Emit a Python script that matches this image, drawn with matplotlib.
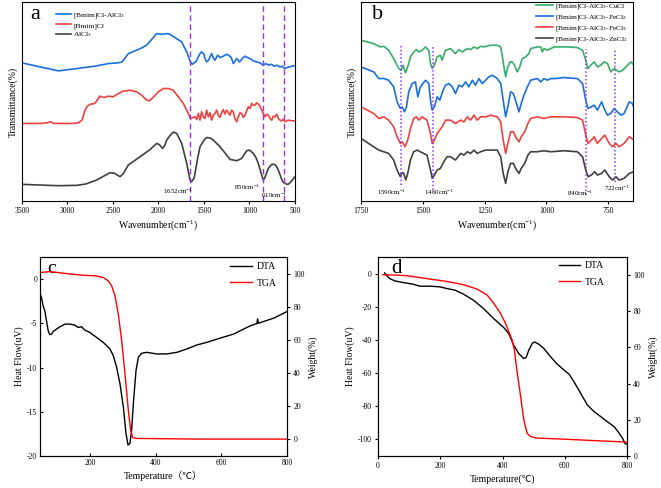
import matplotlib
matplotlib.use("Agg")
import matplotlib.pyplot as plt
import numpy as np

plt.rcParams['font.family'] = ['Liberation Serif', 'Noto Sans CJK SC']
plt.rcParams['mathtext.fontset'] = 'custom'
plt.rcParams['mathtext.rm'] = 'Liberation Serif'
plt.rcParams['mathtext.it'] = 'Liberation Serif:italic'
plt.rcParams['axes.unicode_minus'] = False

C_BLACK = '#404040'
C_RED = '#F14040'
C_BLUE = '#1A6FDF'
C_GREEN = '#37AD6B'
C_VIOLET = '#9A30F0'

# ---------------- Panel a data (wavenumber, transmittance offset, a.u.) ----------------
a_blue_wn = [3500, 3300, 3100, 2900, 2700, 2550, 2450, 2400, 2330, 2200, 2130, 2020, 1960, 1910, 1874, 1840, 1745, 1690, 1650, 1628,
             1610, 1590, 1544, 1526, 1500, 1489, 1471, 1450, 1416, 1400, 1380, 1350, 1320, 1290, 1251, 1230, 1200, 1178, 1160, 1140,
             1110, 1080, 1050, 1020, 995, 958, 920, 885, 848, 820, 790, 760, 730, 700, 665, 640, 617, 590, 560, 530, 500]
a_blue_t = [412, 400, 388, 395, 402, 410, 412, 415, 440, 455, 465, 500, 498, 500, 498, 492, 475, 445, 415, 408,
            412, 415, 440, 445, 438, 425, 415, 420, 440, 428, 420, 435, 428, 432, 438, 435, 428, 410, 418, 425,
            415, 425, 432, 428, 425, 418, 415, 412, 405, 410, 405, 408, 402, 405, 400, 402, 395, 398, 400, 402, 404]

a_red_wn = [3500, 3300, 3220, 3190, 3150, 2950, 2880, 2840, 2808, 2782, 2750, 2700, 2643, 2600, 2551, 2500, 2441, 2386, 2313, 2240,
            2185, 2130, 2100, 2060, 2002, 1947, 1892, 1840, 1782, 1727, 1672, 1650, 1620, 1599, 1580, 1562, 1544, 1526, 1508, 1489,
            1471, 1452, 1434, 1416, 1398, 1379, 1361, 1343, 1324, 1306, 1288, 1270, 1251, 1232, 1214, 1196, 1178, 1160, 1141, 1123,
            1105, 1086, 1068, 1049, 1031, 1013, 995, 976, 958, 940, 921, 903, 885, 866, 848, 830, 811, 793, 775, 756, 738, 720,
            701, 683, 665, 647, 628, 610, 590, 573, 540, 500]
a_red_t = [230, 230, 232, 235, 230, 230, 232, 240, 270, 282, 288, 290, 312, 308, 312, 310, 320, 327, 330, 325,
           315, 300, 298, 308, 325, 335, 335, 330, 310, 290, 260, 245, 248, 250, 242, 260, 240, 265, 250, 245,
           270, 250, 262, 240, 255, 260, 270, 255, 248, 262, 272, 258, 270, 262, 255, 270, 265, 245, 235, 250,
           262, 260, 248, 255, 268, 280, 275, 290, 285, 285, 292, 288, 282, 270, 260, 250, 258, 255, 245, 240, 252, 250,
           258, 245, 240, 238, 242, 235, 238, 240, 238, 238]

a_black_wn = [3500, 3300, 3100, 2900, 2800, 2680, 2600, 2533, 2480, 2423, 2390, 2332, 2203, 2100, 2020, 1990, 1954, 1930, 1910, 1870,
              1837, 1800, 1745, 1690, 1654, 1636, 1610, 1599, 1570, 1544, 1500, 1471, 1430, 1398, 1324, 1260, 1214, 1141, 1086, 1050,
              1031, 1000, 958, 930, 903, 866, 848, 830, 793, 760, 738, 710, 683, 650, 636, 599, 575, 555, 530, 500]
a_black_t = [47, 45, 43, 44, 48, 60, 72, 82, 80, 70, 78, 105, 130, 150, 170, 166, 155, 165, 180, 195,
             204, 200, 170, 110, 60, 55, 65, 80, 125, 160, 180, 188, 186, 180, 160, 138, 122, 118, 125, 140,
             148, 150, 140, 128, 110, 75, 60, 68, 95, 106, 108, 104, 90, 65, 55, 48, 47, 52, 60, 70]

a_peaks = [1652, 850, 619]
a_peak_labels = ['1652cm$^{-1}$', '850cm$^{-1}$', '619cm$^{-1}$']
a_label_x = [1625, 885, 590]
a_label_y = [25, 39, 15]
a_xticks = [3500, 3000, 2500, 2000, 1500, 1000, 500]

# ---------------- Panel b data ----------------
b_green_wn = [1750, 1699, 1672, 1658, 1638, 1618, 1597, 1588, 1580, 1570, 1561, 1550, 1537, 1526, 1516, 1503, 1489, 1476, 1469, 1462,
              1453, 1442, 1429, 1422, 1408, 1388, 1368, 1354, 1341, 1320, 1307, 1293, 1280, 1266, 1253, 1226, 1199, 1185, 1179, 1172,
              1165, 1158, 1148, 1138, 1129, 1118, 1108, 1098, 1084, 1071, 1064, 1037, 1023, 1017, 1010, 996, 983, 969, 942, 915,
              875, 854, 841, 832, 821, 807, 794, 780, 767, 753, 740, 726, 713, 706, 692, 672, 659, 645]
b_green_t = [480, 470, 460, 462, 450, 425, 395, 390, 405, 382, 400, 430, 445, 452, 445, 450, 460, 450, 410, 395,
             405, 430, 435, 420, 450, 455, 440, 452, 445, 455, 452, 460, 455, 462, 460, 465, 465, 460, 435, 400,
             370, 395, 415, 415, 405, 385, 400, 425, 430, 440, 455, 460, 460, 445, 455, 450, 455, 460, 460, 460,
             458, 450, 420, 395, 405, 415, 400, 405, 415, 410, 385, 395, 388, 385, 390, 405, 415, 405]

b_blue_wn = [1750, 1699, 1678, 1658, 1638, 1618, 1604, 1591, 1584, 1574, 1566, 1557, 1543, 1530, 1520, 1510, 1489, 1476, 1469, 1462,
             1453, 1442, 1431, 1418, 1408, 1395, 1381, 1368, 1354, 1341, 1327, 1314, 1300, 1287, 1273, 1260, 1246, 1233, 1219, 1199,
             1185, 1175, 1165, 1156, 1145, 1134, 1125, 1111, 1102, 1091, 1077, 1064, 1037, 1023, 1010, 996, 983, 963, 929, 875,
             854, 841, 832, 818, 807, 794, 777, 764, 753, 740, 726, 713, 699, 686, 665, 652, 645]
b_blue_t = [400, 385, 365, 365, 360, 340, 295, 275, 280, 265, 280, 325, 350, 355, 310, 340, 360, 350, 300, 270,
            280, 310, 300, 330, 345, 350, 340, 320, 345, 340, 355, 340, 360, 345, 365, 350, 360, 370, 375, 365,
            350, 300, 250, 280, 325, 320, 300, 265, 290, 315, 340, 360, 365, 355, 365, 360, 365, 365, 368, 365,
            350, 300, 275, 280, 285, 270, 295, 270, 255, 260, 275, 265, 255, 260, 295, 290, 275]

b_red_wn = [1750, 1699, 1678, 1658, 1638, 1618, 1604, 1591, 1583, 1572, 1561, 1550, 1537, 1526, 1516, 1503, 1483, 1469, 1462, 1453,
            1442, 1422, 1408, 1388, 1368, 1347, 1334, 1320, 1307, 1293, 1280, 1266, 1246, 1226, 1199, 1185, 1175, 1165, 1156, 1145,
            1134, 1125, 1111, 1102, 1088, 1075, 1064, 1037, 1010, 983, 929, 875, 854, 841, 832, 818, 807, 794, 777, 764,
            746, 733, 719, 706, 686, 665, 645]
b_red_t = [280, 260, 245, 250, 240, 220, 190, 170, 175, 160, 180, 215, 245, 250, 240, 250, 240, 200, 170, 180,
           200, 220, 240, 240, 230, 240, 235, 250, 240, 255, 240, 250, 250, 255, 250, 235, 180, 140, 170, 205,
           205, 190, 175, 190, 205, 230, 245, 250, 245, 250, 250, 248, 240, 195, 170, 180, 190, 170, 185, 195,
           170, 160, 170, 160, 170, 190, 180]

b_black_wn = [1750, 1699, 1678, 1658, 1638, 1618, 1604, 1591, 1584, 1577, 1569, 1561, 1550, 1537, 1523, 1510, 1483, 1469, 1462, 1453,
              1442, 1429, 1415, 1402, 1388, 1368, 1347, 1334, 1320, 1307, 1293, 1280, 1266, 1246, 1226, 1199, 1185, 1175, 1165, 1156,
              1145, 1134, 1125, 1111, 1102, 1088, 1075, 1064, 1037, 1010, 983, 929, 875, 854, 841, 832, 818, 805, 794, 777,
              764, 746, 733, 719, 706, 686, 665, 645]
b_black_t = [185, 160, 150, 145, 140, 120, 90, 70, 82, 80, 60, 80, 120, 145, 150, 145, 135, 90, 65, 75,
             90, 95, 115, 130, 130, 120, 140, 135, 145, 140, 150, 140, 145, 150, 150, 150, 130, 80, 50, 85,
             110, 110, 95, 80, 95, 110, 135, 145, 145, 148, 145, 148, 145, 130, 90, 70, 75, 85, 75, 80,
             90, 70, 60, 70, 60, 65, 80, 85]

b_peaks = [1590, 1460, 840, 722]
b_peak_top = [470, 460, 455, 450]
b_peak_bottom = [45, 30, 15, 55]
b_peak_labels = ['1590cm$^{-1}$', '1460cm$^{-1}$', '840cm$^{-1}$', '722cm$^{-1}$']
b_label_x = [1625, 1434, 865, 716]
b_label_y = [24, 24, 21, 36]
b_xticks = [1750, 1500, 1250, 1000, 750]

# ---------------- Panel c data ----------------
c_dta_T = [47.5, 52.6, 57.6, 62.7, 67.8, 72.9, 78, 83, 88.2, 98.3, 108.5, 123.7, 139, 154, 164, 174.6, 184.7, 200, 220, 240.7,
           261, 271, 281.3, 291.5, 301.7, 309.8, 316, 322, 327, 332.2, 340.3, 347.4, 357.6, 372.9, 403.4, 433.9, 464.4, 494.9, 525.4, 555.9,
           596.6, 637.2, 657.6, 688, 708.4, 710.5, 712.5, 728.7, 759.2, 799.9]
c_dta_hf = [-1.54, -2.1, -3.03, -3.6, -4.72, -5.84, -6.29, -6.22, -5.92, -5.65, -5.39, -5.09, -5.09, -5.2, -5.47, -5.39, -5.77, -6.03, -6.59, -7.15,
            -7.9, -8.65, -9.96, -11.83, -14.46, -17.45, -18.76, -18.57, -17.08, -14.08, -10.34, -8.84, -8.39, -8.28, -8.46, -8.46, -8.28, -7.9, -7.45, -7.15,
            -6.67, -6.22, -5.84, -5.28, -5.02, -4.5, -5.0, -4.79, -4.42, -3.67]
c_tga_T = [47.5, 78, 128.8, 179.7, 220.3, 240.7, 255.9, 266.1, 276.3, 286.4, 296.6, 306.8, 316.9, 324, 330.2, 342.4, 433.9, 535.5, 637.2, 799.9]
c_tga_w = [100.6, 101.2, 100, 99, 98.6, 97.6, 95.6, 92.6, 86.6, 75.6, 59.6, 39.6, 17.6, 5.6, 1.2, 0.6, 0.4, 0.2, 0.2, 0.2]

# ---------------- Panel d data ----------------
d_dta_T = [21.5, 26.9, 37.7, 53.8, 80.8, 113, 134.6, 166.9, 199.2, 220.7, 247.6, 274.6, 306.9, 339.2, 371.5, 403.8, 419.9, 436, 452.2, 468.4,
           475.9, 484.5, 495.3, 502.8, 516.8, 533, 554.5, 576, 597.6, 613.7, 629.9, 651.4, 672.9, 694.5, 716, 737.6, 759.1, 775.3, 786, 793.5, 800]
d_dta_hf = [0.4, -1, -3, -4.4, -5.4, -6.4, -7.6, -7.6, -8, -9, -10, -12.4, -16.1, -21.1, -27.1, -32.5, -36.1, -43.2, -48.2, -51.2,
            -50.6, -46.2, -42.2, -41.2, -42.6, -45.2, -50.2, -54.6, -58.2, -60.6, -65.3, -72.3, -79.3, -83.3, -86.3, -89.4, -92.4, -96.4, -99.4, -102.4, -103]
d_tga_T = [16, 59.2, 96.9, 123.8, 166.9, 220.7, 274.6, 317.6, 349.9, 371.5, 393, 409.1, 419.9, 430.7, 438.2, 444.7, 452.2, 459.7, 468.4, 479.1,
           489.9, 511.4, 597.6, 683.7, 759.1, 800]
d_tga_w = [100.2, 100, 99.6, 98.9, 97.8, 96.5, 94.7, 92.3, 89.1, 84.5, 79, 73.5, 68.9, 64.2, 58.7, 49.5, 40.3, 31.1, 20, 12.6,
           10.8, 9.9, 9.3, 8.6, 8, 7.7]

W, H = 661, 488
fig = plt.figure(figsize=(W / 100, H / 100), dpi=100)

def rect(l, r, t, b):
    return [l / W, 1 - b / H, (r - l) / W, (b - t) / H]

TICK_FS = 5.5
LAB_FS = 7
LW = 1.2

# ---- Panel a ----
axa = fig.add_axes(rect(22, 295, 2, 201))
axa.plot(a_blue_wn, a_blue_t, color=C_BLUE, lw=LW, label='[Bmim]Cl-AlCl$_3$')
axa.plot(a_red_wn, a_red_t, color=C_RED, lw=LW, label='[Bmim]Cl')
axa.plot(a_black_wn, a_black_t, color=C_BLACK, lw=LW, label='AlCl$_3$')
for p in a_peaks:
    axa.axvline(p, color=C_VIOLET, ls=(0, (4, 2.5)), lw=1.0)
for txt, x, y in zip(a_peak_labels, a_label_x, a_label_y):
    axa.text(x, y, txt, fontsize=5, ha='right', va='center')
axa.set_xlim(3500, 500)
axa.set_ylim(-3, 595)
axa.set_xticks(a_xticks)
axa.set_yticks([])
axa.tick_params(axis='x', labelsize=TICK_FS, direction='out', length=2.5, width=0.8, pad=2)
axa.set_xlabel('Wavenumber(cm$^{-1}$)', fontsize=LAB_FS, labelpad=2)
axa.set_ylabel('Transmittance(%)', fontsize=LAB_FS, labelpad=3)
axa.text(0.03, 0.935, 'a', transform=axa.transAxes, fontsize=16, va='center', ha='left')
axa.legend(loc='upper left', bbox_to_anchor=(0.125, 0.955), frameon=False, fontsize=5.4,
           handlelength=2.0, handletextpad=0.3, labelspacing=0.25, borderpad=0, borderaxespad=0)

# ---- Panel b ----
axb = fig.add_axes(rect(361, 633, 2, 201))
axb.plot(b_green_wn, b_green_t, color=C_GREEN, lw=LW, label='[Bmim]Cl-AlCl$_3$-CuCl')
axb.plot(b_blue_wn, b_blue_t, color=C_BLUE, lw=LW, label='[Bmim]Cl-AlCl$_3$-FeCl$_2$')
axb.plot(b_red_wn, b_red_t, color=C_RED, lw=LW, label='[Bmim]Cl-AlCl$_3$-FeCl$_3$')
axb.plot(b_black_wn, b_black_t, color=C_BLACK, lw=LW, label='[Bmim]Cl-AlCl$_3$-ZnCl$_2$')
axb.vlines(b_peaks, b_peak_bottom, b_peak_top, colors=C_VIOLET, linestyles=(0, (1, 1.5)), lw=1.1)
for txt, x, y in zip(b_peak_labels, b_label_x, b_label_y):
    axb.text(x, y, txt, fontsize=5, ha='center', va='center')
axb.set_xlim(1750, 650)
axb.set_ylim(-3, 595)
axb.set_xticks(b_xticks)
axb.set_yticks([])
axb.tick_params(axis='x', labelsize=TICK_FS, direction='out', length=2.5, width=0.8, pad=2)
axb.set_xlabel('Wavenumber(cm$^{-1}$)', fontsize=LAB_FS, labelpad=2)
axb.set_ylabel('Transmittance(%)', fontsize=LAB_FS, labelpad=3)
axb.text(0.04, 0.935, 'b', transform=axb.transAxes, fontsize=16, va='center', ha='left')
axb.legend(loc='upper left', bbox_to_anchor=(0.645, 1.0), frameon=False, fontsize=5.4,
           handlelength=2.2, handletextpad=0.3, labelspacing=0.28, borderpad=0, borderaxespad=0)

# ---- Panel c ----
axc = fig.add_axes(rect(40, 287, 257, 456))
l1, = axc.plot(c_dta_T, c_dta_hf, color='black', lw=1.0, label='DTA')
axc.set_xlim(48, 800)
axc.set_ylim(-20, 2.5)
axc.set_xticks([200, 400, 600, 800])
axc.set_yticks([0, -5, -10, -15, -20])
axc.tick_params(labelsize=TICK_FS, direction='in', length=2.5, width=0.8, pad=2)
axc.set_xlabel('Temperature（℃）', fontsize=LAB_FS, labelpad=3)
axc.set_ylabel('Heat Flow(uV)', fontsize=LAB_FS, labelpad=2)
axc2 = axc.twinx()
l2, = axc2.plot(c_tga_T, c_tga_w, color='red', lw=1.0, label='TGA')
axc2.set_ylim(-10, 110)
axc2.set_yticks([0, 20, 40, 60, 80, 100])
axc2.tick_params(labelsize=TICK_FS, direction='out', length=2.5, width=0.8, pad=2)
axc2.set_ylabel('Weight(%)', fontsize=LAB_FS, labelpad=3)
axc.text(0.03, 0.94, 'c', transform=axc.transAxes, fontsize=14, va='center', ha='left')
axc2.legend(handles=[l1, l2], loc='upper left', bbox_to_anchor=(0.77, 0.975), frameon=False, fontsize=7,
            handlelength=2.2, handletextpad=0.5, labelspacing=0.8, borderpad=0, borderaxespad=0)

# ---- Panel d ----
axd = fig.add_axes(rect(378, 627, 257, 456))
m1, = axd.plot(d_dta_T, d_dta_hf, color='black', lw=1.0, label='DTA')
axd.set_xlim(0, 800)
axd.set_ylim(-110, 10)
axd.set_xticks([0, 200, 400, 600, 800])
axd.set_yticks([0, -20, -40, -60, -80, -100])
axd.tick_params(labelsize=TICK_FS, direction='out', length=2.5, width=0.8, pad=2)
axd.set_xlabel('Temperature(℃)', fontsize=LAB_FS, labelpad=3)
axd.set_ylabel('Heat Flow(uV)', fontsize=LAB_FS, labelpad=2)
axd2 = axd.twinx()
m2, = axd2.plot(d_tga_T, d_tga_w, color='red', lw=1.0, label='TGA')
axd2.set_ylim(0, 110)
axd2.set_yticks([0, 20, 40, 60, 80, 100])
axd2.tick_params(labelsize=TICK_FS, direction='out', length=2.5, width=0.8, pad=2)
axd2.set_ylabel('Weight(%)', fontsize=LAB_FS, labelpad=3)
axd.text(0.055, 0.94, 'd', transform=axd.transAxes, fontsize=15, va='center', ha='left')
axd2.legend(handles=[m1, m2], loc='upper left', bbox_to_anchor=(0.725, 0.98), frameon=False, fontsize=7,
            handlelength=2.2, handletextpad=0.5, labelspacing=0.8, borderpad=0, borderaxespad=0)

for ax in [axa, axb, axc, axc2, axd, axd2]:
    for s in ax.spines.values():
        s.set_linewidth(0.8)

fig.savefig('out.png', dpi=100)
